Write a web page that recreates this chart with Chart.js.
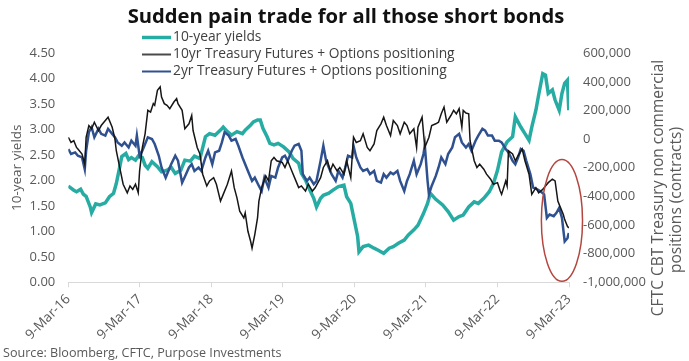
<!DOCTYPE html>
<html><head><meta charset="utf-8">
<script src="https://cdn.jsdelivr.net/npm/chart.js@4.4.1/dist/chart.umd.min.js"></script>
<style>html,body{margin:0;padding:0;background:#fff;}#wrap{width:689px;height:361px;position:relative;overflow:hidden}</style>
</head><body><div id="wrap"><canvas id="c" width="689" height="361"></canvas></div>
<script>
const tickLabels = ['9-Mar-16','9-Mar-17','9-Mar-18','9-Mar-19','9-Mar-20','9-Mar-21','9-Mar-22','9-Mar-23'];
const tickDates = ['2016-03-09','2017-03-09','2018-03-09','2019-03-09','2020-03-09','2021-03-09','2022-03-09','2023-03-09'];

const yieldWeeks = [0,4,6,9,11,13,16,17,20,23,27,30,33,35,37,39,42,44,46,49,51,54,56,58,61,65,68,72,75,78,82,85,89,92,96,100,103,107,111,113,116,119,123,127,129,133,135,138,140,142,145,147,150,153,157,161,164,168,170,173,176,179,181,184,186,190,193,197,201,203,206,208,211,212,215,219,223,226,230,234,237,241,245,248,252,255,259,262,264,268,273,277,281,285,288,292,296,299,303,307,310,313,316,320,324,326,330,333,336,338,341,343,346,348,350,353,355,358,360,362,364,365];
const yieldValues = [1.89,1.81,1.78,1.83,1.73,1.69,1.48,1.37,1.54,1.52,1.56,1.68,1.75,1.94,2.20,2.47,2.53,2.41,2.45,2.40,2.48,2.45,2.30,2.24,2.37,2.27,2.17,2.20,2.26,2.14,2.20,2.40,2.38,2.48,2.43,2.86,2.92,2.89,2.99,3.05,2.96,2.89,2.96,2.92,2.99,3.09,3.15,3.19,3.19,3.02,2.86,2.73,2.70,2.73,2.66,2.56,2.43,2.34,2.14,2.01,1.82,1.65,1.48,1.65,1.71,1.75,1.81,1.88,1.91,1.68,1.55,1.29,0.90,0.60,0.70,0.73,0.67,0.63,0.57,0.67,0.70,0.77,0.83,0.93,1.03,1.12,1.35,1.55,1.75,1.63,1.52,1.39,1.22,1.29,1.32,1.48,1.58,1.55,1.65,1.78,1.94,2.20,2.56,2.76,2.86,3.25,3.05,2.92,2.79,3.05,3.38,3.68,4.10,4.07,3.71,3.78,3.58,3.38,3.71,3.91,3.97,3.38];

const tsy10Weeks = [0,2,4,6,7,10,12,13,15,17,19,22,24,27,29,32,34,35,38,40,43,45,47,49,51,52,54,56,58,60,62,63,65,67,68,70,72,74,77,79,80,83,85,88,90,91,94,96,98,101,103,106,108,111,113,116,119,121,123,125,128,129,131,133,134,136,138,139,141,144,146,148,150,152,156,158,160,163,165,168,170,173,175,178,180,184,186,189,191,193,196,198,201,203,206,207,208,210,213,215,218,220,223,225,228,230,232,235,237,240,242,245,247,249,252,254,255,258,260,263,265,268,270,272,274,276,279,281,283,285,287,288,290,292,293,296,298,300,303,305,308,310,313,315,316,319,320,321,324,326,328,331,333,336,338,341,343,346,348,350,353,355,357,359,361,362,364,365];
const tsy10Values = [13000,-23000,-11000,-58000,-69000,-104000,-175000,13000,95000,72000,118000,60000,95000,130000,153000,83000,1000,-81000,-222000,-315000,-375000,-327000,-351000,-315000,-375000,-222000,-58000,37000,201000,189000,248000,236000,341000,365000,294000,248000,236000,213000,259000,283000,248000,201000,72000,107000,165000,60000,-58000,-104000,-245000,-327000,-292000,-269000,-315000,-433000,-386000,-315000,-222000,-339000,-410000,-503000,-550000,-515000,-644000,-715000,-762000,-667000,-550000,-433000,-339000,-257000,-292000,-151000,-128000,-151000,-163000,-198000,-151000,-222000,-269000,-339000,-327000,-363000,-315000,-363000,-340000,-269000,-198000,-151000,-222000,-175000,-222000,-198000,-245000,-151000,-269000,-128000,13000,-23000,-11000,37000,-58000,-81000,-34000,60000,107000,153000,95000,25000,130000,95000,37000,118000,95000,37000,72000,-58000,83000,153000,-58000,13000,95000,107000,118000,177000,224000,118000,165000,201000,177000,213000,83000,201000,182000,177000,-11000,-151000,-198000,-175000,-210000,-245000,-280000,-315000,-304000,-363000,-386000,-292000,-327000,-81000,-104000,-151000,-116000,-69000,-151000,-245000,-386000,-339000,-375000,-351000,-327000,-304000,-280000,-292000,-433000,-480000,-527000,-562000,-609000,-621000];

const tsy2Weeks = [0,2,5,7,10,12,13,15,17,19,22,24,27,29,32,34,36,39,41,44,46,49,50,52,54,56,58,61,63,66,68,71,73,75,78,80,83,85,88,90,92,95,97,100,102,105,107,110,112,114,117,119,122,124,127,129,131,134,136,139,141,143,146,148,151,153,156,158,160,163,165,168,170,171,174,176,179,181,184,186,188,190,192,195,197,200,202,204,207,208,210,213,215,218,220,223,225,228,230,232,235,237,240,242,245,247,249,252,254,257,259,260,262,263,265,268,270,272,275,277,280,282,285,287,290,292,294,297,299,302,304,306,309,311,314,316,319,321,324,326,328,330,332,334,337,339,342,344,347,349,351,354,356,358,360,362,364,365];
const tsy2Values = [-69000,-104000,-93000,-116000,-128000,-210000,-81000,48000,83000,13000,72000,37000,25000,72000,37000,13000,-23000,-46000,-23000,-58000,-11000,-46000,25000,-116000,-81000,-34000,13000,1000,-34000,-116000,-198000,-269000,-222000,-175000,-116000,-151000,-304000,-263000,-198000,-175000,-222000,-198000,-222000,-128000,-81000,-175000,-93000,-81000,-23000,48000,25000,-11000,1000,-46000,-128000,-175000,-222000,-292000,-269000,-327000,-363000,-269000,-339000,-257000,-269000,-198000,-128000,-116000,-151000,-81000,-46000,-34000,-81000,-245000,-292000,-269000,-315000,-292000,-151000,-46000,-151000,-198000,-245000,-292000,-222000,-269000,-198000,-116000,-128000,-46000,-128000,-198000,-222000,-210000,-245000,-222000,-292000,-304000,-245000,-269000,-233000,-245000,-222000,-292000,-363000,-292000,-245000,-151000,-245000,-175000,-104000,-46000,-292000,-386000,-327000,-257000,-198000,-128000,-175000,-104000,-58000,13000,37000,-23000,-58000,-34000,-81000,-11000,25000,72000,60000,25000,25000,-11000,-11000,-23000,-69000,-93000,-151000,-175000,-128000,-69000,-81000,-151000,-245000,-339000,-351000,-363000,-386000,-550000,-527000,-538000,-515000,-480000,-550000,-715000,-692000,-656000];

const seriesNames = ['10-year yields','10yr Treasury Futures + Options positioning','2yr Treasury Futures + Options positioning'];
const rightTitleLines = ['CFTC CBT Treasury non commercial', 'positions (contracts)'];
// circled region (data units: week index, contracts)
const calloutWeek = 360, calloutHalfWeeks = 15, calloutValue = -568000, calloutHalfValue = 425000;

const FONT = 'Open Sans';
const T0 = Date.parse(tickDates[0]);
const toWeek = d => (Date.parse(d) - T0) / (7 * 86400000);
const tickWeeks = tickDates.map(toWeek);
const pts = (w, v) => w.map((x, i) => ({x: x, y: v[i]}));

const extras = {
  id: 'extras',
  afterDatasetsDraw(chart) {
    const ctx = chart.ctx, xs = chart.scales.x, ys = chart.scales.y2;
    const cx = xs.getPixelForValue(calloutWeek), cy = ys.getPixelForValue(calloutValue);
    const rx = Math.abs(xs.getPixelForValue(calloutWeek + calloutHalfWeeks) - cx);
    const ry = Math.abs(ys.getPixelForValue(calloutValue + calloutHalfValue) - cy);
    ctx.save();
    ctx.beginPath(); ctx.ellipse(cx, cy, rx, ry, 0, 0, Math.PI * 2);
    ctx.strokeStyle = '#b5463f'; ctx.lineWidth = 1.5; ctx.stroke();
    // legend
    const rows = [37.5, 54.5, 71.5];
    chart.data.datasets.forEach((ds, i) => {
      ctx.beginPath(); ctx.moveTo(142, rows[i]); ctx.lineTo(171, rows[i]);
      ctx.strokeStyle = ds.legendColor || ds.borderColor; ctx.lineWidth = i === 0 ? 3.5 : 2; ctx.stroke();
      ctx.fillStyle = '#404040'; ctx.font = '13.8px "' + FONT + '"'; ctx.textBaseline = 'middle'; ctx.textAlign = 'left';
      ctx.fillText(ds.label, 173, rows[i]);
    });
    // right axis title (reads bottom-to-top)
    ctx.translate(659, 188); ctx.rotate(-Math.PI / 2);
    ctx.fillStyle = '#595959'; ctx.font = '15.5px "' + FONT + '"'; ctx.textAlign = 'center'; ctx.textBaseline = 'middle';
    ctx.fillText(rightTitleLines[0], 0, 0);
    ctx.fillText(rightTitleLines[1], -12, 18);
    ctx.restore();
  }
};

new Chart(document.getElementById('c'), {
  type: 'line',
  data: {
    datasets: [
      {label: seriesNames[0], data: pts(yieldWeeks, yieldValues), yAxisID: 'y', borderColor: '#27aca4', borderWidth: 3.5, pointRadius: 0, tension: 0, order: 3},
      {label: seriesNames[1], data: pts(tsy10Weeks, tsy10Values), yAxisID: 'y2', borderColor: '#161616', legendColor: '#4a4a4a', borderWidth: 1.5, pointRadius: 0, tension: 0, order: 1},
      {label: seriesNames[2], data: pts(tsy2Weeks, tsy2Values), yAxisID: 'y2', borderColor: '#2f5190', borderWidth: 2.5, pointRadius: 0, tension: 0, order: 2}
    ]
  },
  options: {
    responsive: false, animation: false, devicePixelRatio: 1,
    layout: {padding: {left: 3, right: 0, top: 0, bottom: 0}},
    plugins: {
      legend: {display: false}, tooltip: {enabled: false},
      title: {display: true, text: 'Sudden pain trade for all those short bonds', color: '#111', font: {family: FONT, size: 20.2, weight: 'bold'}, padding: {top: 5, bottom: 24}},
      subtitle: {display: true, position: 'bottom', align: 'start', text: 'Source: Bloomberg, CFTC, Purpose Investments', color: '#595959', font: {family: FONT, size: 12.6}, padding: {top: 0, bottom: 0}}
    },
    scales: {
      x: {
        type: 'linear', min: 0, max: tickWeeks[tickWeeks.length - 1],
        afterBuildTicks: s => { s.ticks = tickWeeks.map(v => ({value: v})); },
        afterFit: s => { s.height = 63.6; },
        ticks: {autoSkip: false, maxRotation: 45, minRotation: 45, padding: 4, color: '#595959', font: {family: FONT, size: 13.5}, callback: (v, i) => tickLabels[i]},
        grid: {display: true, drawOnChartArea: false, drawTicks: true, tickLength: 5, color: '#d9d9d9'},
        border: {display: true, color: '#d9d9d9'}
      },
      y: {
        type: 'linear', position: 'left', min: 0, max: 4.5,
        afterFit: s => { s.width = 65.3; },
        ticks: {stepSize: 0.5, padding: 13, color: '#595959', font: {family: FONT, size: 13}, callback: v => v.toFixed(2)},
        grid: {display: false, drawTicks: false}, border: {display: false},
        title: {display: true, text: '10-year yields', color: '#595959', font: {family: FONT, size: 13.5}, padding: {top: 6.5, bottom: 0}}
      },
      y2: {
        type: 'linear', position: 'right', min: -1000000, max: 600000,
        afterFit: s => { s.width = 120; },
        ticks: {stepSize: 200000, padding: 14, color: '#595959', font: {family: FONT, size: 13}, callback: v => v.toLocaleString('en-US')},
        grid: {display: false, drawTicks: false}, border: {display: false}
      }
    }
  },
  plugins: [extras]
});
</script>
</body></html>
